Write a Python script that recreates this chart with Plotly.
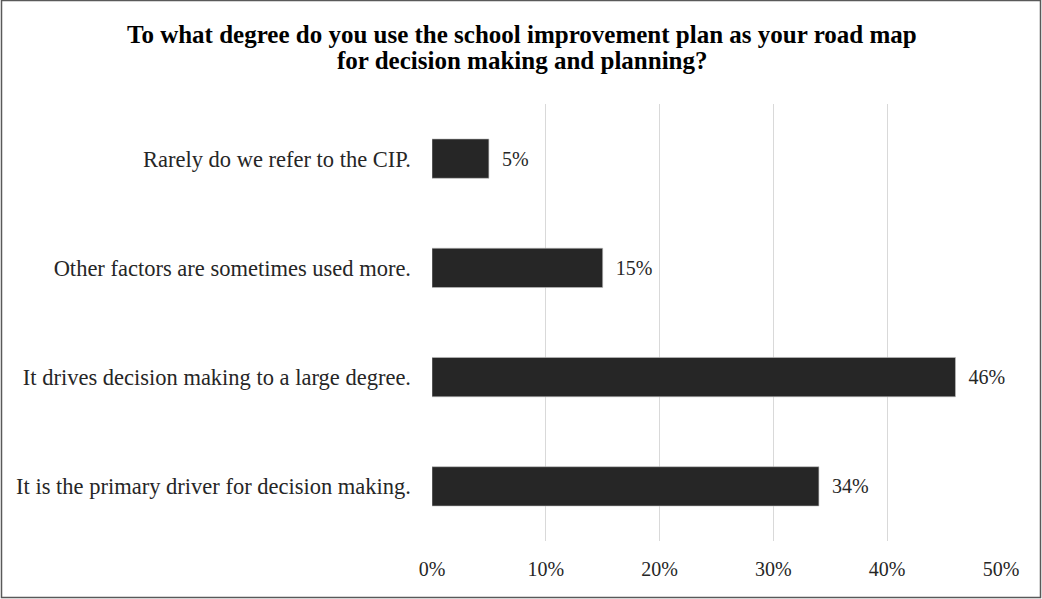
import plotly.graph_objects as go

# Survey responses, listed top to bottom as shown
categories = [
    "Rarely do we refer to the CIP.",
    "Other factors are sometimes used more.",
    "It drives decision making to a large degree.",
    "It is the primary driver for decision making.",
]
percentages = [5, 15, 46, 34]
x_ticks = [0, 10, 20, 30, 40, 50]
x_tick_labels = [f"{t}%" for t in x_ticks]

title_lines = [
    "To what degree do you use the school improvement plan as your road map",
    "for decision making and planning?",
]

FONT = "Liberation Serif, Times New Roman, serif"
W, H = 1042, 599
ML, MR, MT, MB = 432, 41, 104, 58

fig = go.Figure(
    go.Bar(
        x=percentages,
        y=categories,
        orientation="h",
        marker=dict(color="#262626", line=dict(color="#bfbfbf", width=0.6)),
        text=[f"\u00a0\u00a0{v}%" for v in percentages],
        textposition="outside",
        textfont=dict(family=FONT, size=20, color="#262626"),
        cliponaxis=False,
        hoverinfo="skip",
    )
)

# Helpers turning pixel positions into paper units
pw = W - ML - MR
ph = H - MT - MB
def px_x(p):
    return (p - ML) / pw
def px_y(p):
    return (H - MB - p) / ph

# Outer frame around the whole chart
fig.add_shape(
    type="rect", xref="paper", yref="paper",
    x0=px_x(1.5), x1=px_x(1040.5), y0=px_y(597.5), y1=px_y(0.5),
    line=dict(color="#595959", width=1.5), fillcolor="rgba(0,0,0,0)",
    layer="below",
)

# Two-line bold title centred on the whole figure
for line, cy in zip(title_lines, [35, 61]):
    fig.add_annotation(
        text=f"<b>{line}</b>",
        xref="paper", yref="paper",
        x=px_x(W / 2 + 1), y=px_y(cy),
        xanchor="center", yanchor="middle",
        showarrow=False,
        font=dict(family=FONT, size=25, color="#000000"),
    )

fig.update_layout(
    width=W, height=H,
    margin=dict(l=ML, r=MR, t=MT, b=MB, pad=0),
    paper_bgcolor="white", plot_bgcolor="white",
    bargap=0.64,
    showlegend=False,
    font=dict(family=FONT, size=20, color="#262626"),
)
fig.update_xaxes(
    range=[0, 50],
    tickvals=x_ticks, ticktext=x_tick_labels,
    showgrid=True, gridcolor="#d9d9d9", gridwidth=1,
    zeroline=False, showline=False,
    ticks="", ticklabelstandoff=14,
    tickfont=dict(family=FONT, size=20, color="#262626"),
    fixedrange=True,
)
fig.update_yaxes(
    autorange="reversed",
    showgrid=False, zeroline=False, showline=False,
    ticks="", ticklabelstandoff=20,
    tickfont=dict(family=FONT, size=22.5, color="#262626"),
    fixedrange=True,
)

fig.write_html("out.html", config={"displayModeBar": False})
